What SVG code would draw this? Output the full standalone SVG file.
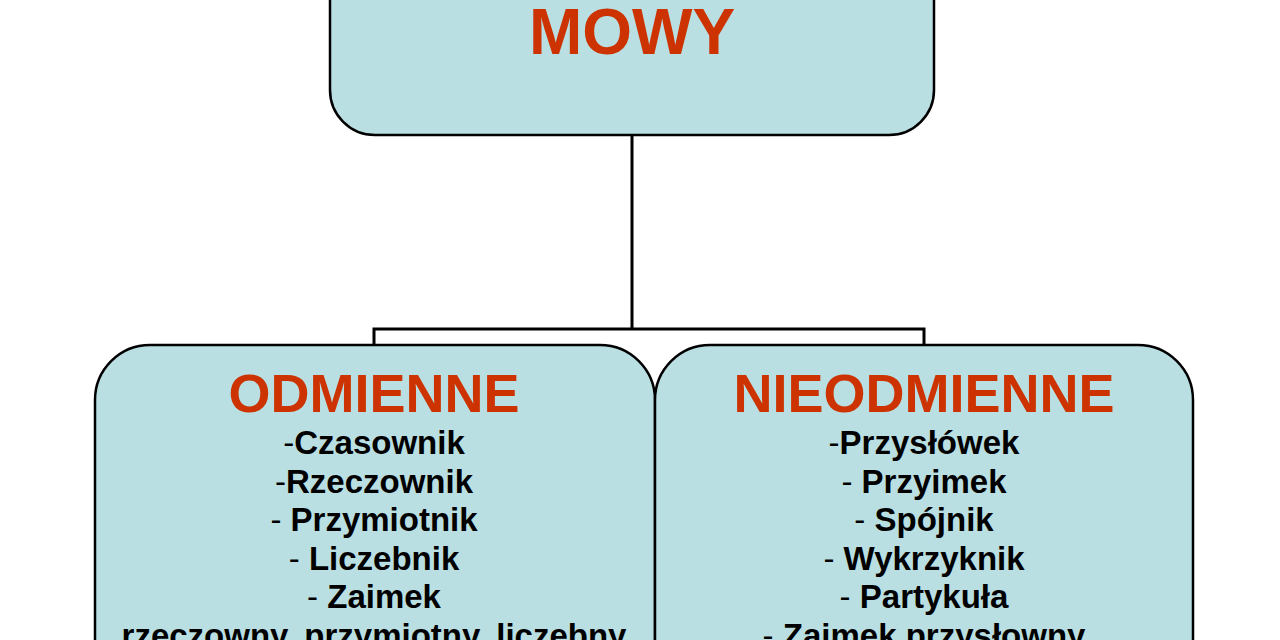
<svg xmlns="http://www.w3.org/2000/svg" width="1280" height="640" viewBox="0 0 1280 640">
<style>
.box{fill:#b9dfe2;stroke:#000;stroke-width:2.5}
.conn{fill:none;stroke:#000;stroke-width:3}
.title{font-family:"Liberation Sans",Arial,sans-serif;font-weight:bold;fill:#cc3300;text-anchor:middle}
.item{font-family:"Liberation Sans",Arial,sans-serif;font-size:33px;font-weight:bold;fill:#000;text-anchor:middle}
.d{font-weight:normal}
</style>
<rect width="1280" height="640" fill="#fff"/>
<g id="connectors">
<path class="conn" d="M632 135 V329 M374 345 V329 H924 V345"/>
</g>
<g id="mowy">
<rect class="box" x="330" y="-60" width="604" height="195" rx="45"/>
<text class="title" x="632" y="54" font-size="64">MOWY</text>
</g>
<g id="odmienne">
<rect class="box" x="95" y="345" width="560" height="360" rx="55"/>
<text class="title" x="374" y="412" font-size="54">ODMIENNE</text>
<text class="item" x="374" y="454"><tspan class="d">-</tspan>Czasownik</text>
<text class="item" x="374" y="492.5"><tspan class="d">-</tspan>Rzeczownik</text>
<text class="item" x="374" y="531"><tspan class="d">- </tspan>Przymiotnik</text>
<text class="item" x="374" y="569.5"><tspan class="d">- </tspan>Liczebnik</text>
<text class="item" x="374" y="608"><tspan class="d">- </tspan>Zaimek</text>
<text class="item" x="374" y="646.5">rzeczowny, przymiotny, liczebny</text>
</g>
<g id="nieodmienne">
<rect class="box" x="655" y="345" width="538" height="360" rx="55"/>
<text class="title" x="924" y="412" font-size="54">NIEODMIENNE</text>
<text class="item" x="924" y="454"><tspan class="d">-</tspan>Przysłówek</text>
<text class="item" x="924" y="492.5"><tspan class="d">- </tspan>Przyimek</text>
<text class="item" x="924" y="531"><tspan class="d">- </tspan>Spójnik</text>
<text class="item" x="924" y="569.5"><tspan class="d">- </tspan>Wykrzyknik</text>
<text class="item" x="924" y="608"><tspan class="d">- </tspan>Partykuła</text>
<text class="item" x="924" y="646.5"><tspan class="d">- </tspan>Zaimek przysłowny</text>
</g>
</svg>
